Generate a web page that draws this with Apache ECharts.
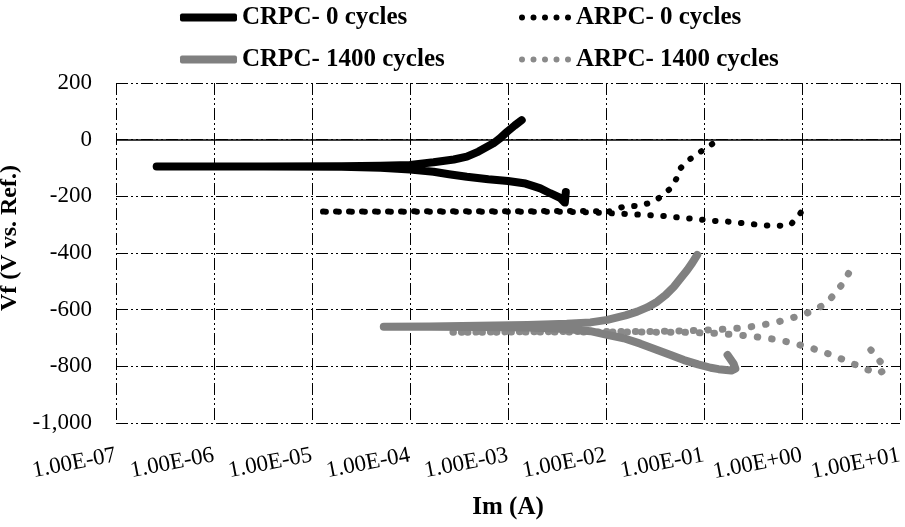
<!DOCTYPE html>
<html>
<head>
<meta charset="utf-8">
<script src="https://cdn.jsdelivr.net/npm/echarts@6/dist/echarts.min.js"></script>
<style>
html, body { margin: 0; background: #fff; }
#chart { width: 905px; height: 527px; }
</style>
</head>
<body>
<div id="chart"></div>
<script>
// tick labels of the log x axis, 1e-7 .. 1e+1
const xTickLabels = ['1.00E-07', '1.00E-06', '1.00E-05', '1.00E-04', '1.00E-03', '1.00E-02', '1.00E-01', '1.00E+00', '1.00E+01'];

const seriesNames = ['CRPC- 0 cycles', 'ARPC- 0 cycles', 'CRPC- 1400 cycles', 'ARPC- 1400 cycles'];

// CRPC - 0 cycles (scan order: cathodic end -> Ecorr -> anodic end)
const crpc0Current = [3.89e-3, 3.8e-3, 3.39e-3, 2.69e-3, 2.14e-3, 1.82e-3, 1.51e-3, 1.0e-3, 6.3e-4, 3.8e-4, 2.5e-4, 1.74e-4, 1.0e-4, 5.0e-5, 2.0e-5, 3.2e-6, 2.6e-7,
    3.2e-6, 2.0e-5, 5.0e-5, 1.0e-4, 1.74e-4, 2.8e-4, 3.8e-4, 5.0e-4, 7.1e-4, 8.3e-4, 9.8e-4, 1.17e-3, 1.38e-3];
const crpc0Potential = [-185, -222, -205, -189, -172, -164, -155, -146, -140, -131, -122, -113, -105, -99, -96, -95, -95,
    -95, -94, -92, -89, -80, -70, -60, -42, -13, 5, 28, 50, 69];

// ARPC - 0 cycles
const arpc0Current = [0.97, 0.767, 0.538, 0.372, 0.256, 0.173, 0.117, 0.082, 0.0555, 0.0375, 0.0264, 0.0178, 0.012, 6.3e-3, 2.5e-3, 6.3e-4, 1.0e-4, 1.15e-5,
    1.0e-4, 6.3e-4, 2.5e-3, 6.3e-3, 0.0107, 0.0152, 0.0225, 0.0285, 0.036, 0.0456, 0.0533, 0.0555, 0.0649, 0.0789, 0.108, 0.142];
const arpc0Potential = [-258, -300, -305, -301, -295, -289, -286, -280, -275, -269, -266, -263, -260, -256, -254, -254, -254, -254,
    -253, -253, -252, -252, -254, -236, -233, -222, -203, -172, -133, -107, -81, -58, -27, 1];

// CRPC - 1400 cycles
const crpc1400Current = [0.174, 0.2, 0.209, 0.19, 0.141, 0.117, 0.087, 0.0624, 0.0457, 0.0333, 0.0224, 0.0152, 0.01, 6.95e-3, 3.98e-3, 1.58e-3, 5.0e-4, 1.58e-4, 5.4e-5,
    1.58e-4, 5.0e-4, 1.58e-3, 3.98e-3, 6.95e-3, 0.0103, 0.0158, 0.0208, 0.0263, 0.0333, 0.0407, 0.0493, 0.0575, 0.0675, 0.0759, 0.0853];
const crpc1400Potential = [-760, -790, -808, -815, -810, -805, -793, -778, -760, -742, -720, -701, -688, -676, -668, -663, -661, -660, -660,
    -659, -657, -654, -650, -645, -636, -620, -607, -592, -572, -548, -519, -490, -460, -435, -407];

// ARPC - 1400 cycles
const arpc1400Current = [5.04, 6.12, 7.16, 6.12, 4.48, 2.79, 2.12, 1.61, 1.18, 0.767, 0.538, 0.324, 0.218, 0.126, 0.063, 0.0251, 6.3e-3, 1.26e-3, 2.57e-4,
    1.26e-3, 6.3e-3, 0.0308, 0.073, 0.16, 0.256, 0.394, 0.582, 0.933, 1.23, 1.68, 2.12, 2.69, 3.4];
const arpc1400Potential = [-742, -778, -810, -825, -810, -780, -763, -748, -733, -716, -705, -695, -689, -683, -680, -679, -679, -679, -680,
    -678, -677, -677, -674, -669, -664, -654, -642, -622, -607, -583, -548, -501, -436];

const FONT = 'Liberation Serif';
const gridDash = [12, 3, 2, 3, 2, 3];

// legend icons: a thick rounded bar, and a row of five dots
const barIcon = 'roundRect';
const dotsIcon = 'path://M0,3a3,3 0 1,0 6,0a3,3 0 1,0 -6,0z' +
    'M11.5,3a3,3 0 1,0 6,0a3,3 0 1,0 -6,0z' +
    'M23,3a3,3 0 1,0 6,0a3,3 0 1,0 -6,0z' +
    'M34.5,3a3,3 0 1,0 6,0a3,3 0 1,0 -6,0z' +
    'M46,3a3,3 0 1,0 6,0a3,3 0 1,0 -6,0z';

const zip = (xs, ys) => xs.map((x, i) => [x, ys[i]]);

const solidSeries = (name, cur, pot, color) => ({
    name: name,
    type: 'line',
    data: zip(cur, pot),
    symbol: 'none',
    lineStyle: { color: color, width: 8, cap: 'round', join: 'round' },
    itemStyle: { color: color }
});

const dotSeries = (name, cur, pot, color, w, gap) => ({
    name: name,
    type: 'line',
    data: zip(cur, pot),
    symbol: 'none',
    lineStyle: { color: color, width: w, type: [0.5, gap], cap: 'round', join: 'round' },
    itemStyle: { color: color }
});

const legendBase = {
    orient: 'vertical',
    top: 5,
    padding: 0,
    itemGap: 17,
    textStyle: { fontFamily: FONT, fontWeight: 'bold', fontSize: 25, color: '#000' }
};

const chart = echarts.init(document.getElementById('chart'));
chart.setOption({
    animation: false,
    legend: [
        Object.assign({ left: 180, itemWidth: 57, itemHeight: 8, data: [
            { name: seriesNames[0], icon: barIcon },
            { name: seriesNames[2], icon: barIcon }
        ] }, legendBase),
        Object.assign({ left: 519, itemWidth: 52, itemHeight: 6, data: [
            { name: seriesNames[1], icon: dotsIcon },
            { name: seriesNames[3], icon: dotsIcon }
        ] }, legendBase)
    ],
    grid: { left: 116, right: 5, top: 83, bottom: 104, outerBoundsMode: 'none' },
    xAxis: {
        type: 'log',
        logBase: 10,
        min: 1e-7,
        max: 10,
        splitNumber: 8,
        name: 'Im (A)',
        nameLocation: 'middle',
        nameGap: 72,
        nameTextStyle: { fontFamily: FONT, fontWeight: 'bold', fontSize: 25, color: '#000' },
        axisLine: { show: false },
        axisTick: { show: false },
        axisLabel: {
            rotate: 11,
            margin: 32,
            fontFamily: FONT,
            fontSize: 23,
            color: '#000',
            formatter: v => xTickLabels[Math.round(Math.log10(v)) + 7]
        },
        splitLine: { show: true, lineStyle: { color: '#000', width: 1, type: gridDash } }
    },
    yAxis: {
        type: 'value',
        min: -1000,
        max: 200,
        interval: 200,
        name: 'Vf (V vs. Ref.)',
        nameLocation: 'middle',
        nameGap: 84,
        nameTextStyle: { fontFamily: FONT, fontWeight: 'bold', fontSize: 24, color: '#000', padding: [0, 0, 0, 30] },
        axisLine: { show: false },
        axisTick: { show: false },
        axisLabel: {
            margin: 24,
            fontFamily: FONT,
            fontSize: 23,
            color: '#000',
            formatter: v => v.toLocaleString('en-US')
        },
        splitLine: { show: true, lineStyle: { color: '#000', width: 1, type: gridDash } }
    },
    series: [
        dotSeries(seriesNames[3], arpc1400Current, arpc1400Potential, '#8a8a8a', 7, 14),
        solidSeries(seriesNames[2], crpc1400Current, crpc1400Potential, '#808080'),
        dotSeries(seriesNames[1], arpc0Current, arpc0Potential, '#000', 6, 12.5),
        Object.assign(solidSeries(seriesNames[0], crpc0Current, crpc0Potential, '#000'), {
            markLine: {
                silent: true,
                symbol: 'none',
                label: { show: false },
                lineStyle: { color: '#000', type: 'solid', width: 1.5 },
                data: [{ yAxis: 0 }]
            }
        })
    ]
});
</script>
</body>
</html>
